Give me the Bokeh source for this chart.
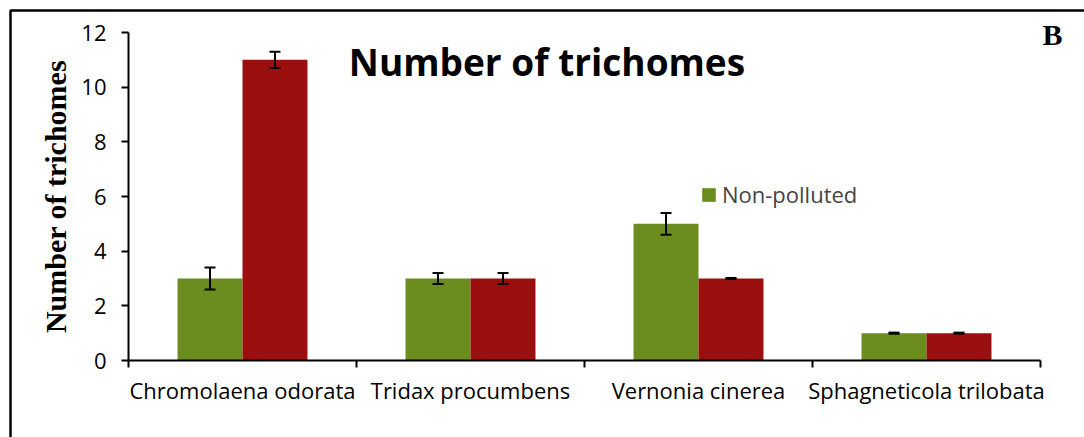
from bokeh.plotting import figure
from bokeh.models import (ColumnDataSource, Range1d, FixedTicker, Whisker, TeeHead,
                          Legend, LegendItem, Label, BoxAnnotation)
from bokeh.embed import file_html
from bokeh.resources import INLINE

species = ["Chromolaena odorata", "Tridax procumbens", "Vernonia cinerea", "Sphagneticola trilobata"]
non_polluted = [3, 3, 5, 1]
non_polluted_err = [0.4, 0.2, 0.4, 0.02]
polluted = [11, 3, 3, 1]
polluted_err = [0.3, 0.2, 0.02, 0.02]
y_ticks = [0, 2, 4, 6, 8, 10, 12]

GREEN = "#6B8C1E"
RED = "#9B0F0F"
BW = 0.285
SANS = "Open Sans"

W, H = 1084, 437
X0_PX, X4_PX = 128, 1040     # where x=0 and x=4 sit on the canvas
Y0_PX, Y12_PX = 360, 32      # where y=0 and y=12 sit on the canvas
sx = (X4_PX - X0_PX) / len(species)
sy = (Y0_PX - Y12_PX) / 12.0

p = figure(width=W, height=H, output_backend="svg", toolbar_location=None,
           x_range=Range1d(-X0_PX / sx, (W - X0_PX) / sx),
           y_range=Range1d(-(H - Y0_PX) / sy, 12 + Y12_PX / sy),
           min_border=0, min_border_left=0, min_border_right=0,
           min_border_top=0, min_border_bottom=0)
p.outline_line_color = None
p.xgrid.visible = False
p.ygrid.visible = False

# outer frame (top and left edges visible)
p.add_layout(BoxAnnotation(left=(10 - X0_PX) / sx, right=100, top=12 + (Y12_PX - 10) / sy, bottom=-100,
                           fill_alpha=0, line_color="black", line_alpha=1.0, line_width=2.5))

centers = [i + 0.5 for i in range(len(species))]
src_g = ColumnDataSource(dict(x=[c - BW / 2 for c in centers], top=non_polluted,
                              upper=[v + e for v, e in zip(non_polluted, non_polluted_err)],
                              lower=[v - e for v, e in zip(non_polluted, non_polluted_err)]))
src_r = ColumnDataSource(dict(x=[c + BW / 2 for c in centers], top=polluted,
                              upper=[v + e for v, e in zip(polluted, polluted_err)],
                              lower=[v - e for v, e in zip(polluted, polluted_err)]))

rg = p.vbar(x="x", top="top", bottom=0, width=BW, source=src_g, fill_color=GREEN, line_color=None)
rr = p.vbar(x="x", top="top", bottom=0, width=BW, source=src_r, fill_color=RED, line_color=None)

for s in (src_g, src_r):
    w = Whisker(base="x", upper="upper", lower="lower", source=s, line_color="black", line_width=2,
                level="overlay",
                upper_head=TeeHead(size=11, line_width=2, line_color="black"),
                lower_head=TeeHead(size=11, line_width=2, line_color="black"))
    p.add_layout(w)

# axes
xa = p.xaxis[0]
xa.fixed_location = 0
xa.bounds = (0, len(species))
xa.ticker = FixedTicker(ticks=centers, minor_ticks=list(range(len(species) + 1)))
xa.major_label_overrides = {c: s for c, s in zip(centers, species)}
xa.major_tick_out = 0
xa.major_tick_in = 0
xa.minor_tick_out = 7
xa.minor_tick_in = 0
xa.minor_tick_line_color = "black"
xa.minor_tick_line_width = 2
xa.axis_line_color = "black"
xa.axis_line_width = 2
xa.major_label_standoff = 7
xa.major_label_text_font = SANS
xa.major_label_text_font_size = "22px"
xa.major_label_text_color = "black"

ya = p.yaxis[0]
ya.fixed_location = 0
ya.bounds = (0, 12)
ya.ticker = FixedTicker(ticks=y_ticks)
ya.minor_tick_line_color = None
ya.major_tick_out = 7
ya.major_tick_in = 0
ya.major_tick_line_color = "black"
ya.major_tick_line_width = 2
ya.axis_line_color = "black"
ya.axis_line_width = 2
ya.major_label_standoff = 15
ya.major_label_text_font = SANS
ya.major_label_text_font_size = "22px"
ya.major_label_text_color = "black"
ya.axis_label = "Number of trichomes"
ya.axis_label_text_font = "Liberation Serif"
ya.axis_label_text_font_style = "bold"
ya.axis_label_text_font_size = "30px"
ya.axis_label_text_color = "black"
ya.axis_label_standoff = 6

legend = Legend(items=[LegendItem(label="Non-polluted", renderers=[rg])],
                location=(700, 228), background_fill_alpha=0, border_line_color=None,
                glyph_width=17, glyph_height=17, label_text_font=SANS,
                label_text_font_size="22px", label_standoff=5, padding=0, margin=0)
p.add_layout(legend)

p.add_layout(Label(x=1.8355, y=10.94, text="Number of trichomes", text_align="center",
                   text_baseline="alphabetic", text_font=SANS, text_font_style="bold",
                   text_font_size="37px", text_color="black"))
p.add_layout(Label(x=4.053, y=11.93, text="B", text_align="center",
                   text_baseline="alphabetic", text_font="Liberation Serif", text_font_style="bold",
                   text_font_size="30px", text_color="black"))

open("out.html", "w").write(file_html(p, INLINE))
